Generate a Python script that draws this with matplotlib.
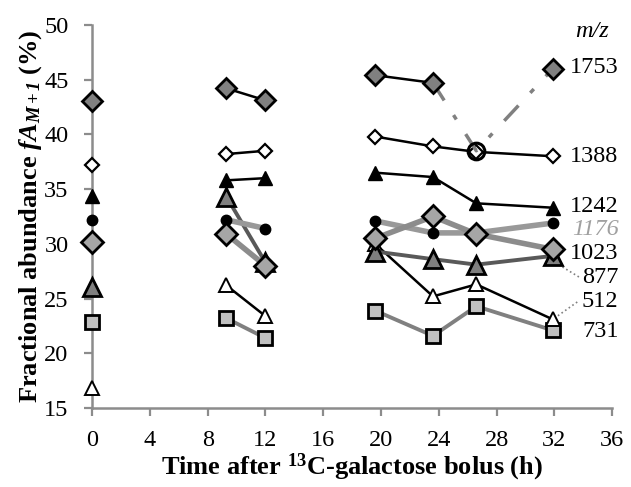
import matplotlib
matplotlib.use("Agg")
import matplotlib.pyplot as plt
import numpy as np

plt.rcParams['font.family'] = ['Liberation Serif', 'DejaVu Serif']
plt.rcParams['mathtext.fontset'] = 'custom'
plt.rcParams['mathtext.rm'] = 'Liberation Serif'
plt.rcParams['mathtext.it'] = 'Liberation Serif:italic'
plt.rcParams['mathtext.bf'] = 'Liberation Serif:bold'
plt.rcParams['mathtext.bfit'] = 'Liberation Serif:bold:italic'

times = [0, 9.3, 12, 19.6, 23.6, 26.6, 31.9]
groups = [[0], [1, 2], [3, 4, 5, 6]]

mz_1753 = [43.0, 44.2, 43.1, 45.4, 44.7, 38.5, 46.0]
mz_1388 = [37.2, 38.2, 38.5, 39.8, 38.9, 38.4, 38.0]
mz_1242 = [34.4, 35.8, 36.0, 36.5, 36.1, 33.7, 33.3]
mz_1176 = [32.2, 32.2, 31.4, 32.1, 31.0, 31.0, 31.9]
mz_1023 = [30.2, 30.9, 28.0, 30.5, 32.5, 30.9, 29.5]
mz_877 = [26.1, 34.3, 28.3, 29.3, 28.6, 28.1, 28.9]
mz_512 = [16.8, 26.2, 23.4, 30.0, 25.2, 26.3, 23.1]
mz_731 = [22.9, 23.2, 21.4, 23.9, 21.6, 24.3, 22.1]

labels = ['1753', '1388', '1242', '1176', '1023', '877', '512', '731']
label_y = [46.1, 38.0, 33.4, 31.3, 29.1, 26.9, 24.7, 22.0]

fig = plt.figure(figsize=(6.31, 4.87), dpi=100)
ax = fig.add_axes([0.146, 0.162, 0.824, 0.787])

def draw(vals, lc, lw, mk, ms, mfc, mec, mew, z, idx_groups=groups):
    for g in idx_groups:
        xs = [times[i] for i in g]
        ys = [vals[i] for i in g]
        ax.plot(xs, ys, color=lc, lw=lw, zorder=z, clip_on=False)
    ax.plot(times, vals, ls='none', marker=mk, ms=ms, mfc=mfc, mec=mec, mew=mew,
            zorder=z + 0.5, clip_on=False)

# series (bottom to top drawing order)
draw(mz_731, '#808080', 2.8, 's', 10.5, '#c0c0c0', 'black', 2.0, 2)
draw(mz_512, 'black', 1.8, '^', 9.5, 'white', 'black', 1.4, 3)
draw(mz_877, '#595959', 2.8, '^', 12.5, '#7f7f7f', 'black', 2.0, 4)
draw(mz_1176, '#999999', 4.0, 'o', 7.5, 'black', 'black', 1, 5)
draw(mz_1023, '#8c8c8c', 4.0, 'D', 11, '#a6a6a6', 'black', 2.0, 6)
draw(mz_1242, 'black', 1.8, '^', 10.5, 'black', 'black', 1, 7)
draw(mz_1388, 'black', 1.8, 'D', 7.5, 'white', 'black', 1.6, 8)

# 1753: solid segments, dash-dot to the odd point
for g in [[1, 2], [3, 4]]:
    ax.plot([times[i] for i in g], [mz_1753[i] for i in g], color='black', lw=1.8, zorder=9)
ax.plot([times[i] for i in [4, 5, 6]], [mz_1753[i] for i in [4, 5, 6]],
        color='#808080', lw=2.5, ls=(0, (6, 5, 1.5, 5)), zorder=8.8)
norm_idx = [0, 1, 2, 3, 4, 6]
ax.plot([times[i] for i in norm_idx], [mz_1753[i] for i in norm_idx], ls='none', marker='D',
        ms=10, mfc='#808080', mec='black', mew=2.0, zorder=9.5, clip_on=False)
ax.plot([times[5]], [mz_1753[5]], ls='none', marker='o', ms=12, mfc='none',
        mec='black', mew=2.2, zorder=9.5)

ax.set_xlim(0, 36)
ax.set_ylim(15, 50)
ax.set_xticks(np.arange(0, 37, 4))
ax.set_yticks(np.arange(15, 51, 5))
for s in ['top', 'right']:
    ax.spines[s].set_visible(False)
for s in ['left', 'bottom']:
    ax.spines[s].set_color('#8c8c8c')
    ax.spines[s].set_linewidth(1.8)
    ax.spines[s].set_zorder(1)
ax.tick_params(axis='both', colors='#8c8c8c', width=1.6, length=6, labelsize=17.5,
               labelcolor='black', direction='out')
ax.tick_params(axis='x', pad=10)
ax.tick_params(axis='y', pad=11)

ax.set_xlabel('Time after $^{\\mathbf{13}}$C-galactose bolus (h)', fontsize=19, fontweight='bold', labelpad=0)
ax.set_ylabel('Fractional abundance $\\mathbfit{fA}_{\\mathbfit{M+1}}$ (%)', fontsize=19,
              fontweight='bold', labelpad=0)

# right labels
ax.text(34.6, 49.4, 'm/z', fontsize=17.5, style='italic', ha='center', va='center', clip_on=False)
for lab, ly in zip(labels, label_y):
    col = '#a0a0a0' if lab == '1176' else 'black'
    sty = 'italic' if lab == '1176' else 'normal'
    ax.text(36.45, ly, lab, fontsize=17.5, color=col, style=sty, ha='right', va='center', clip_on=False)

# dotted leaders
ax.plot([32.3, 33.8], [28.1, 26.9], color='#808080', lw=1.2, ls=':', zorder=1)
ax.plot([32.0, 33.6], [23.2, 24.7], color='#808080', lw=1.2, ls=':', zorder=1)

fig.savefig('out.png', dpi=100)
